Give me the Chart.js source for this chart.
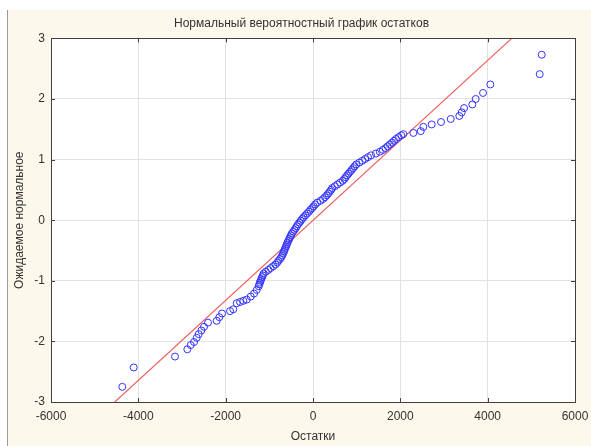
<!DOCTYPE html>
<html>
<head>
<meta charset="utf-8">
<script src="https://cdn.jsdelivr.net/npm/chart.js@4/dist/chart.umd.min.js"></script>
<style>
  html, body { margin: 0; padding: 0; background: #fff; }
  #wrap { position: relative; width: 591px; height: 446px; }
  #panel { position: absolute; left: 7px; top: 10px; right: 0; bottom: 0;
           background: #fdf8ec; border-left: 1px solid #9a9a9a; }
  canvas { position: absolute; left: 0; top: 0; }
</style>
</head>
<body>
<div id="wrap">
  <div id="panel"></div>
  <canvas id="c" width="591" height="446"></canvas>
</div>
<script>
// остатки и ожидаемые нормальные значения
const residuals = [
  -4367, -4106, -3160, -2878, -2800, -2725, -2663, -2617, -2557, -2496,
  -2404, -2205, -2145, -2083, -1900, -1825, -1747, -1671, -1595, -1517,
  -1426, -1350, -1289, -1243, -1230, -1215, -1200, -1185, -1165, -1150,
  -1130, -1080, -1020, -970, -910, -860, -820, -790, -755, -725,
  -705, -685, -665, -650, -635, -615, -600, -585, -565, -545,
  -525, -505, -485, -455, -425, -395, -370, -345, -310, -280,
  -250, -215, -175, -135, -95, -60, -20, 15, 50, 95,
  170, 230, 275, 315, 350, 385, 415, 440, 500, 560,
  620, 680, 720, 750, 780, 815, 850, 885, 920, 955,
  990, 1060, 1130, 1195, 1260, 1330, 1440, 1530, 1600, 1660,
  1710, 1760, 1810, 1855, 1900, 1960, 2020, 2069, 2298, 2467,
  2527, 2718, 2932, 3154, 3351, 3406, 3459, 3649, 3726, 3894,
  4061, 5192, 5238
];
const expected = [
  -2.75, -2.43, -2.25, -2.13, -2.06, -2.01, -1.94, -1.88, -1.82, -1.76,
  -1.69, -1.66, -1.60, -1.54, -1.50, -1.47, -1.37, -1.35, -1.33, -1.31,
  -1.26, -1.21, -1.15, -1.09, -1.06, -1.03, -1.00, -0.97, -0.94, -0.91,
  -0.88, -0.85, -0.82, -0.79, -0.76, -0.73, -0.70, -0.67, -0.64, -0.61,
  -0.58, -0.55, -0.52, -0.49, -0.46, -0.43, -0.40, -0.37, -0.34, -0.31,
  -0.28, -0.25, -0.22, -0.19, -0.16, -0.13, -0.10, -0.07, -0.04, -0.01,
  0.02, 0.05, 0.08, 0.11, 0.14, 0.17, 0.20, 0.23, 0.26, 0.29,
  0.32, 0.35, 0.38, 0.41, 0.44, 0.47, 0.50, 0.53, 0.56, 0.59,
  0.62, 0.65, 0.68, 0.71, 0.74, 0.77, 0.80, 0.83, 0.86, 0.89,
  0.92, 0.95, 0.98, 1.01, 1.04, 1.07, 1.10, 1.13, 1.16, 1.19,
  1.22, 1.25, 1.28, 1.31, 1.34, 1.37, 1.40, 1.42, 1.44, 1.47,
  1.54, 1.58, 1.62, 1.67, 1.72, 1.78, 1.85, 1.91, 2.00, 2.10,
  2.24, 2.41, 2.73
];
// линия нормального распределения
const lineX = [-4540, 4550];
const lineY = [-3, 3];

const xTicks = [-6000, -4000, -2000, 0, 2000, 4000, 6000];
const yTicks = [-3, -2, -1, 0, 1, 2, 3];

const font = { family: "'Liberation Sans', Arial, sans-serif", size: 12, weight: "normal" };

// рамка и внутренние засечки
const framePlugin = {
  id: "frame",
  afterDatasetsDraw(chart) {
    const { ctx, chartArea: a, scales } = chart;
    ctx.save();
    ctx.strokeStyle = "#404040";
    ctx.lineWidth = 1;
    ctx.beginPath();
    xTicks.forEach(v => {
      const x = Math.round(scales.x.getPixelForValue(v)) + 0.5;
      ctx.moveTo(x, a.bottom); ctx.lineTo(x, a.bottom - 4);
      ctx.moveTo(x, a.top); ctx.lineTo(x, a.top + 4);
    });
    yTicks.forEach(v => {
      const y = Math.round(scales.y.getPixelForValue(v)) + 0.5;
      ctx.moveTo(a.left, y); ctx.lineTo(a.left + 4, y);
      ctx.moveTo(a.right, y); ctx.lineTo(a.right - 4, y);
    });
    ctx.stroke();
    ctx.strokeRect(Math.round(a.left) + 0.5, Math.round(a.top) + 0.5,
                   Math.round(a.right - a.left), Math.round(a.bottom - a.top));
    ctx.restore();
  },
  beforeDraw(chart) {
    const { ctx, chartArea: a } = chart;
    ctx.save();
    ctx.fillStyle = "#ffffff";
    ctx.fillRect(a.left, a.top, a.right - a.left, a.bottom - a.top);
    ctx.restore();
  }
};

new Chart(document.getElementById("c"), {
  data: {
    datasets: [
      {
        type: "scatter",
        data: residuals.map((r, i) => ({ x: r, y: expected[i] })),
        pointStyle: "circle",
        pointRadius: 3.5,
        pointBorderWidth: 1,
        pointBorderColor: "#3434ff",
        pointBackgroundColor: "rgba(0,0,0,0)",
        order: 1
      },
      {
        type: "line",
        data: lineX.map((x, i) => ({ x: x, y: lineY[i] })),
        borderColor: "#f06060",
        borderWidth: 1.2,
        pointRadius: 0,
        fill: false,
        order: 2
      }
    ]
  },
  options: {
    responsive: false,
    animation: false,
    layout: { padding: { left: 12, right: 0, top: 0, bottom: 0 } },
    plugins: {
      legend: { display: false },
      tooltip: { enabled: false },
      title: {
        display: true,
        text: "Нормальный вероятностный график остатков",
        color: "#333",
        font: font,
        padding: { top: 16, bottom: 8 }
      }
    },
    scales: {
      x: {
        type: "linear",
        min: -6000, max: 6000,
        afterBuildTicks: s => { s.ticks = xTicks.map(v => ({ value: v })); },
        afterFit: s => { s.height = 44; s.paddingLeft = 0; s.paddingRight = 0; },
        ticks: { color: "#333", font: font, padding: 7, maxRotation: 0, callback: v => String(v) },
        grid: { color: "#e2e2e2", drawTicks: false },
        border: { display: false },
        title: { display: true, text: "Остатки", color: "#333", font: font, padding: { top: 0, bottom: 2 } }
      },
      y: {
        type: "linear",
        min: -3, max: 3,
        afterBuildTicks: s => { s.ticks = yTicks.map(v => ({ value: v })); },
        afterFit: s => { s.width = 39; s.paddingTop = 0; s.paddingBottom = 0; },
        ticks: { color: "#333", font: font, padding: 6, callback: v => String(v) },
        grid: { color: "#e2e2e2", drawTicks: false },
        border: { display: false },
        title: { display: true, text: "Ожидаемое нормальное", color: "#333", font: font, padding: { top: 0, bottom: 0 } }
      },
      y2: {
        type: "linear",
        position: "right",
        min: -3, max: 3,
        afterFit: s => { s.width = 16; s.paddingTop = 0; s.paddingBottom = 0; },
        ticks: { display: false },
        grid: { display: false },
        border: { display: false }
      }
    }
  },
  plugins: [framePlugin]
});
</script>
</body>
</html>
